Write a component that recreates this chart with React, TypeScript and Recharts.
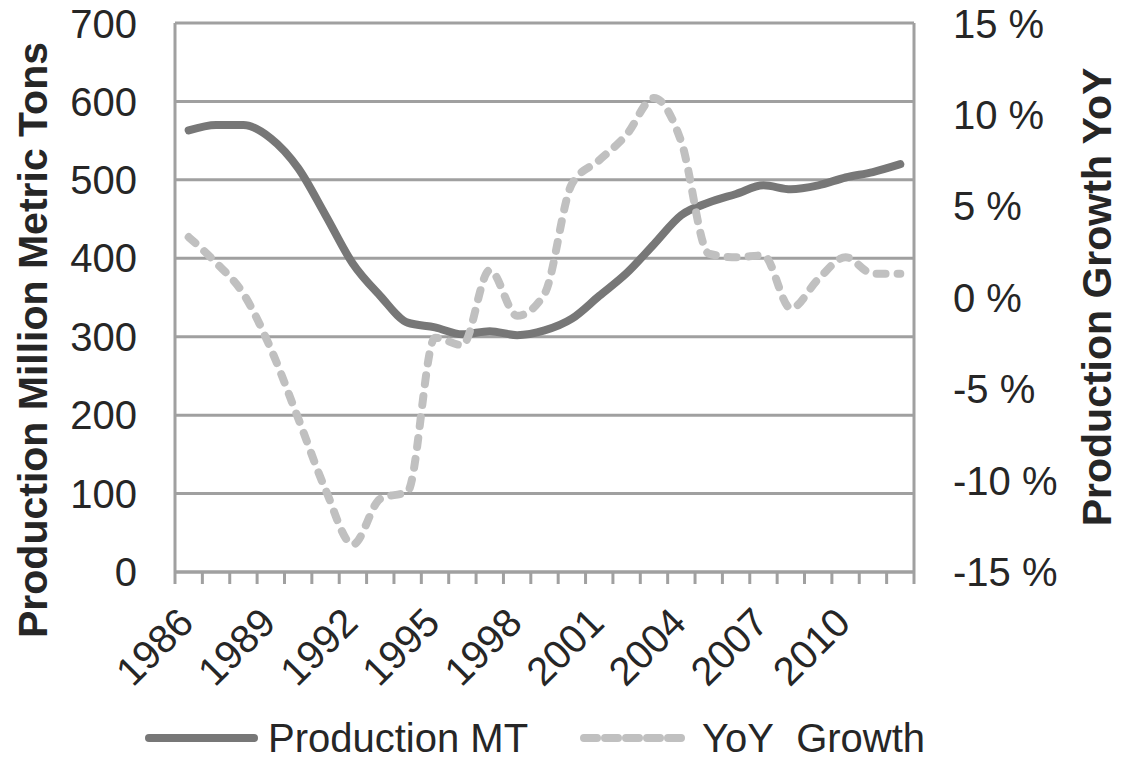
import React from 'react';
import { LineChart, Line, XAxis, YAxis, CartesianGrid, Legend } from 'recharts';

const years = [1986, 1987, 1988, 1989, 1990, 1991, 1992, 1993, 1994, 1995, 1996, 1997, 1998, 1999, 2000, 2001, 2002, 2003, 2004, 2005, 2006, 2007, 2008, 2009, 2010, 2011, 2012];
const productionMT = [563, 570, 570, 553, 515, 455, 393, 352, 318, 312, 303, 307, 302, 308, 323, 352, 381, 418, 455, 471, 482, 493, 488, 493, 503, 510, 520];
const yoyGrowth = [3.3, 1.9, 0.2, -2.8, -6.6, -10.5, -13.5, -11.0, -10.6, -2.2, -2.6, 1.5, -1.0, 0.2, 6.2, 7.5, 8.9, 10.9, 8.5, 2.4, 2.2, 2.3, -0.6, 1.0, 2.2, 1.3, 1.3];
const yearLabels = [1986, 1989, 1992, 1995, 1998, 2001, 2004, 2007, 2010];
const yearBoundaries = [1985.5, 1986.5, 1987.5, 1988.5, 1989.5, 1990.5, 1991.5, 1992.5, 1993.5, 1994.5, 1995.5, 1996.5, 1997.5, 1998.5, 1999.5, 2000.5, 2001.5, 2002.5, 2003.5, 2004.5, 2005.5, 2006.5, 2007.5, 2008.5, 2009.5, 2010.5, 2011.5, 2012.5];
const leftTicks = [0, 100, 200, 300, 400, 500, 600, 700];
const rightTicks = [-15, -10, -5, 0, 5, 10, 15];

const data = years.map((year, i) => ({ year, production: productionMT[i], yoy: yoyGrowth[i] }));

const FONT = '"Liberation Sans", Arial, sans-serif';
const TEXT = '#262626';
const GRID = '#a0a0a0';
const SOLID = '#777777';
const DASH = '#c0c0c0';

const YearTick = (props: any) => {
  const { x, y, payload } = props;
  return (
    <g transform={`translate(${x + 7},${y + 52})`}>
      <text x={0} y={0} textAnchor="end" transform="rotate(-45)" fontSize={40} fontFamily={FONT} fill={TEXT}>
        {payload.value}
      </text>
    </g>
  );
};

const NoTick = () => <g />;

const LegendContent = () => (
  <svg width={1121} height={50} style={{ display: 'block' }}>
    <line x1={149} y1={25} x2={254} y2={25} stroke={SOLID} strokeWidth={8} strokeLinecap="round" />
    <text x={268} y={25} dy="0.36em" fontSize={40} fontFamily={FONT} fill={TEXT}>Production MT</text>
    <line x1={584} y1={25} x2={681} y2={25} stroke={DASH} strokeWidth={8} strokeLinecap="round" strokeDasharray="13 8" />
    <text x={702} y={25} dy="0.36em" fontSize={40} fontFamily={FONT} fill={TEXT}>{'YoY\u00a0\u00a0Growth'}</text>
  </svg>
);

export default function App() {
  return (
    <div style={{ position: 'absolute', left: 0, top: 0, width: 1121, height: 763, background: '#fff' }}>
      <LineChart width={1121} height={763} data={data} margin={{ top: 23, right: 0, bottom: 0, left: 0 }}>
        <CartesianGrid yAxisId="left" xAxisId="year" vertical={false} stroke={GRID} strokeWidth={3} />
        <XAxis
          xAxisId="marks"
          dataKey="year"
          type="number"
          domain={[1985.5, 2012.5]}
          ticks={yearBoundaries}
          tick={NoTick}
          tickSize={12}
          tickLine={{ stroke: GRID, strokeWidth: 3 }}
          axisLine={{ stroke: GRID, strokeWidth: 3 }}
          height={1}
          interval={0}
          allowDataOverflow
        />
        <XAxis
          xAxisId="year"
          dataKey="year"
          type="number"
          domain={[1985.5, 2012.5]}
          ticks={yearLabels}
          tick={YearTick}
          tickLine={false}
          axisLine={false}
          tickSize={0}
          tickMargin={0}
          height={140}
          interval={0}
          allowDataOverflow
        />
        <YAxis
          yAxisId="left"
          domain={[0, 700]}
          ticks={leftTicks}
          width={175}
          tickLine={false}
          tickSize={0}
          tickMargin={38}
          axisLine={{ stroke: GRID, strokeWidth: 3 }}
          tick={{ fontSize: 40, fontFamily: FONT, fill: TEXT }}
          label={{
            content: () => (
              <text x={33} y={340} textAnchor="middle" dominantBaseline="central" transform="rotate(-90, 33, 340)" fontSize={41} fontWeight="bold" fontFamily={FONT} fill={TEXT}>
                Production Million Metric Tons
              </text>
            ),
          }}
        />
        <YAxis
          yAxisId="right"
          orientation="right"
          domain={[-15, 15]}
          ticks={rightTicks}
          width={207}
          tickLine={false}
          tickSize={0}
          tickMargin={39}
          tickFormatter={(v: number) => `${v} %`}
          axisLine={{ stroke: GRID, strokeWidth: 3 }}
          tick={{ fontSize: 40, fontFamily: FONT, fill: TEXT, textAnchor: 'start' }}
          label={{
            content: () => (
              <text x={1097} y={297} textAnchor="middle" dominantBaseline="central" transform="rotate(-90, 1097, 297)" fontSize={41} fontWeight="bold" fontFamily={FONT} fill={TEXT}>
                Production Growth YoY
              </text>
            ),
          }}
        />
        <Line
          xAxisId="marks"
          yAxisId="left"
          type="monotone"
          dataKey="production"
          name="Production MT"
          stroke={SOLID}
          strokeWidth={8}
          strokeLinecap="round"
          strokeLinejoin="round"
          dot={false}
          activeDot={false}
          isAnimationActive={false}
        />
        <Line
          xAxisId="year"
          yAxisId="right"
          type="monotone"
          dataKey="yoy"
          name="YoY  Growth"
          stroke={DASH}
          strokeWidth={8}
          strokeLinecap="round"
          strokeLinejoin="round"
          strokeDasharray="9 12"
          dot={false}
          activeDot={false}
          isAnimationActive={false}
        />
        <Legend verticalAlign="bottom" height={50} wrapperStyle={{ height: 50 }} content={LegendContent} />
      </LineChart>
    </div>
  );
}
